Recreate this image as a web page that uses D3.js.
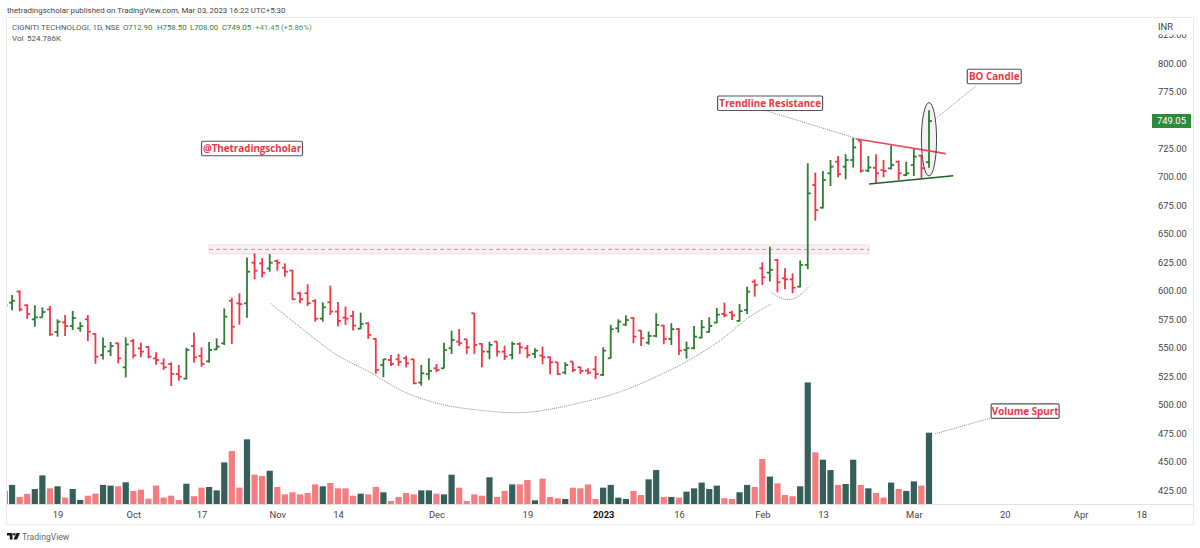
<!DOCTYPE html>
<html>
<head>
<meta charset="utf-8">
<script src="https://cdn.jsdelivr.net/npm/d3@7"></script>
<style>
  html, body { margin: 0; padding: 0; background: #fff; }
  svg { display: block; }
  text { font-family: Roboto, sans-serif; }
</style>
</head>
<body>
<svg id="chart" width="1200" height="548"></svg>
<script>
// daily bars, Sep 2022 - Mar 2023
const opens = [585.4,589.5,599.2,587.2,574.9,576.6,583.6,563.7,572.2,569,567,574.9,562,543.5,546.8,553.8,532.7,555.8,549.4,550.6,540.6,536.2,535.6,526.9,522.8,551.4,542.7,538,548.5,553.8,591.2,588.9,588.9,624.6,624,619.6,626.1,620.2,617.7,597.8,597.8,591,575.5,589.9,581.7,576.4,577.9,566.7,571.4,557.7,534.8,539.2,539.8,540.7,539.8,519.3,526.9,531.9,531.9,549.5,555.3,557.4,580.2,553.3,546.5,555.3,546.5,543.6,553.3,549.5,544.5,543,541.6,537.2,528.1,537.8,532.8,529.9,531,526.1,540.7,567,570.3,576.1,565,554.4,560.3,569.4,557.7,566.4,548,549.5,558.8,563.8,572,579.6,580.8,573.5,583.1,608,619.7,615.9,627,610.9,610,603.6,622.6,692.8,672.9,703.1,713.3,708.9,714.8,731.8,705.4,708,706,707.5,713.3,701.6,710.4,718.6,712.9];
const highs = [588.9,596.2,600.3,588,587.2,585.4,586.6,574.9,578.7,582.2,572.5,578.7,562.6,559,555,554.4,559,557.6,554.4,551.4,545.9,540.6,537.1,534.8,550,563.4,550.3,555,558.2,584.5,593.9,597.7,629,632.8,628.7,632.2,627.5,624,618.3,599.2,605.7,592.5,589.9,604.5,590.2,586,582.5,580.8,572.3,558.3,540.1,543.6,544.5,543,540.1,534.8,540.7,535.7,554.4,565,566.4,557.7,580.2,553.9,555.3,555.3,551.8,555.3,554.7,552.4,549.5,550.9,542.2,537.2,537.2,537.8,533.4,531.9,542.7,550.3,570,574.9,578.4,576.7,565.6,564.1,580.2,570,571.4,567,555.3,569.1,574.4,576.7,584.9,589.6,582.5,588.4,603.6,610,625,638.7,627.9,619.7,615.3,626.5,711.9,703.7,705.1,714.8,718.3,719.8,734.4,732.4,718.3,719.8,714.8,727.7,714.2,713.3,724.5,719.2,758.5];
const lows = [584.5,582.8,581.9,575.4,568.4,576.6,560.5,559.6,560.2,565.5,564,555.8,535.9,539.7,542.7,536.2,523.9,540.6,541.5,540.6,535,530.4,516.3,521,522.2,536.8,533.3,536.8,548,552.3,553.2,570.2,576.3,610,611.7,616.7,617.6,612.3,591.9,589,586.6,572.9,572.9,578.7,568.5,570,565,566.2,557.7,527,524,534,534,532.8,517.9,516.7,521.7,528.4,531.6,544.5,551.5,544.5,544.5,532.8,539.8,542.2,539.2,539.8,544.5,540.7,540.7,535.4,526.6,526,526.6,528.4,526.9,526.6,522.5,525.2,540.4,563.2,569.1,553.9,551.5,552.7,559.1,553,552.4,543.6,540.4,548.6,558.3,563.2,571.4,576.7,574.4,572.9,579.6,594.8,605.1,608,598.6,601.3,597.8,603,618.8,661.5,672.3,692,699.6,697.8,708.1,703.7,704.3,693.7,699.6,706.6,697.2,700.7,700.7,698.7,708];
const closes = [587.1,591.2,583.6,579.5,576.6,581.3,561.7,572.8,569,576,569,564,542.1,550.9,551.4,540.6,552.9,543.2,546.5,542.1,539.1,532.7,526.9,524.5,548,541.5,535.6,548,550.9,577.2,568.4,588.3,616.7,617.6,615.8,624.6,624.6,616.7,592.5,592.5,589,575.5,585.5,581.7,573.5,575.5,569.4,570.8,561.2,530.4,539.8,535.7,537.5,536.3,518.7,527.5,529.6,530.4,548,556.8,553.9,550.3,552.4,546.5,552.4,546.5,542.2,553.3,550.3,543.6,547.4,541.6,537.2,526.9,534.8,530.4,529.6,528.1,526.9,547.4,566.2,572.9,574.3,559.7,558.3,560.3,570,557.7,566.2,547.4,549.5,559.7,567.9,569.1,579,578.4,578.4,582,599.2,605.1,611.8,618.3,607.4,610,602.7,622.6,685.5,670.9,697.2,708.9,702.5,714.8,725.9,705.4,708.3,703.1,705.1,710.4,703.1,703.1,717.7,707.6,749.05];
const volumes = [98,142,54,76,112,212,117,132,49,112,32,63,78,142,137,132,161,98,107,41,137,49,63,32,151,59,122,127,102,307,390,122,476,217,207,246,127,73,88,73,83,146,132,156,117,117,63,78,73,127,88,24,54,83,73,102,102,78,73,217,122,24,73,63,198,54,98,146,146,178,29,188,54,44,39,122,117,146,39,122,142,49,39,98,68,183,251,54,54,49,93,117,159,112,137,44,39,88,142,127,332,203,154,68,59,132,893,381,327,251,142,149,327,142,117,83,49,159,112,98,168,137,524.786];

const priceTicks = [425,450,475,500,525,550,575,600,625,650,675,700,725,775,800,825];
const timeBars = [7,17,26,36,44,57,69,79,89,100,108,120,132,142,150];
const timeLabels = ['19','Oct','17','Nov','14','Dec','19','2023','16','Feb','13','Mar','20','Apr','18'];

// drawings, all as [bar index, price]
const cupCurve = [[35.07,589],[39.47,565.6],[43.88,543.6],[48.28,528.1],[52.68,511.4],[57.09,501.2],[61.49,496],[68.5,493],[74.7,499.7],[81.3,511.4],[87.9,530.5],[89.6,536.3],[94.1,554.8],[98.5,577.9],[101.1,588.1]];
const handleCurve = [[101.1,599],[102.8,592.8],[104.4,593.7],[106.1,603.3]];
const resistanceLeader = [[100.2,758.7],[112.1,734.4]];
const resistanceLine = [[112.3,733.5],[124.2,720.4]];
const supportLine = [[114.1,693.8],[125.2,701]];
const breakoutLeader = [[123.1,752.3],[128.2,779.8]];
const volumeLeader = [[122.8,474.3],[130.2,488.3]];
const resistanceZone = { from: 27, to: 114.1, top: 640.2, mid: 636.3, bottom: 632.3 };
const breakoutOval = { bar: 122, price: 733, priceRadius: 32.2, barRadius: 1 };

const callouts = [
  { text: 'Trendline Resistance', bar: 94.1, price: 771, w: 105 },
  { text: '@Thetradingscholar', bar: 26, price: 731.3, w: 101 },
  { text: 'BO Candle', bar: 127.05, price: 794.5, w: 54 },
  { text: 'Volume Spurt', bar: 130.2, price: 500.6, w: 68 }
];

const GREEN = '#2e7d32';
const RED = '#f23645';
const VOL_GREEN = '#355f58';
const VOL_RED = '#f77c80';
const FRAME = '#ebebec';
const TEXT = '#444';
const LABEL_FONT = '"Open Sans", sans-serif';

const svg = d3.select('#chart');

const xScale = d3.scaleLinear().domain([0, 122]).range([4.5, 929]);
const yScale = d3.scaleLinear().domain([425, 800]).range([490, 63]);
const volScale = d3.scaleLinear().domain([0, 524.786]).range([504.3, 432.7]);
const pt = d => [xScale(d[0]), yScale(d[1])];

const defs = svg.append('defs');
defs.append('clipPath').attr('id', 'pane')
  .append('rect').attr('x', 7).attr('y', 18).attr('width', 1186).attr('height', 486);
defs.append('clipPath').attr('id', 'axisClip')
  .append('rect').attr('x', 1146).attr('y', 34.5).attr('width', 47).attr('height', 470);

// frame
svg.append('rect')
  .attr('x', 6.5).attr('y', 17.5).attr('width', 1187).attr('height', 507)
  .attr('fill', '#fff').attr('stroke', FRAME);
svg.append('line')
  .attr('x1', 7).attr('x2', 1193).attr('y1', 504.5).attr('y2', 504.5)
  .attr('stroke', '#e2e2e4');

const pane = svg.append('g').attr('clip-path', 'url(#pane)');

// resistance zone
pane.append('rect')
  .attr('x', xScale(resistanceZone.from)).attr('width', xScale(resistanceZone.to) - xScale(resistanceZone.from))
  .attr('y', yScale(resistanceZone.top)).attr('height', yScale(resistanceZone.bottom) - yScale(resistanceZone.top))
  .attr('fill', '#fdeef0').attr('stroke', '#f9d3d8').attr('stroke-width', 0.8);
pane.append('line')
  .attr('x1', xScale(resistanceZone.from)).attr('x2', xScale(resistanceZone.to))
  .attr('y1', yScale(resistanceZone.mid)).attr('y2', yScale(resistanceZone.mid))
  .attr('stroke', '#9aa6cc').attr('stroke-width', 1).attr('stroke-dasharray', '4 3');

// volume
pane.selectAll('.vol')
  .data(volumes)
  .enter().append('rect')
  .attr('class', 'vol')
  .attr('x', (d, i) => xScale(i) - 3.1)
  .attr('width', 6.2)
  .attr('y', d => volScale(d))
  .attr('height', d => volScale(0) - volScale(d))
  .attr('fill', (d, i) => closes[i] >= opens[i] ? VOL_GREEN : VOL_RED);

// ohlc bars
const bars = pane.selectAll('.bar')
  .data(opens)
  .enter().append('g')
  .attr('class', 'bar')
  .attr('stroke', (d, i) => closes[i] >= opens[i] ? GREEN : RED)
  .attr('stroke-width', 1.8);
bars.append('line')
  .attr('x1', (d, i) => xScale(i)).attr('x2', (d, i) => xScale(i))
  .attr('y1', (d, i) => yScale(highs[i])).attr('y2', (d, i) => yScale(lows[i]));
bars.append('line')
  .attr('x1', (d, i) => xScale(i) - 3).attr('x2', (d, i) => xScale(i))
  .attr('y1', (d, i) => yScale(opens[i])).attr('y2', (d, i) => yScale(opens[i]));
bars.append('line')
  .attr('x1', (d, i) => xScale(i)).attr('x2', (d, i) => xScale(i) + 3)
  .attr('y1', (d, i) => yScale(closes[i])).attr('y2', (d, i) => yScale(closes[i]));

// curves and leaders
const smooth = d3.line().x(d => xScale(d[0])).y(d => yScale(d[1])).curve(d3.curveCatmullRom);
[cupCurve, handleCurve].forEach(points => {
  pane.append('path')
    .attr('d', smooth(points))
    .attr('fill', 'none')
    .attr('stroke', '#888').attr('stroke-width', 1).attr('stroke-dasharray', '1 1');
});
[resistanceLeader, breakoutLeader, volumeLeader].forEach(points => {
  pane.append('line')
    .attr('x1', pt(points[0])[0]).attr('y1', pt(points[0])[1])
    .attr('x2', pt(points[1])[0]).attr('y2', pt(points[1])[1])
    .attr('stroke', '#888').attr('stroke-width', 1).attr('stroke-dasharray', '1 1');
});
pane.append('line')
  .attr('x1', pt(resistanceLine[0])[0]).attr('y1', pt(resistanceLine[0])[1])
  .attr('x2', pt(resistanceLine[1])[0]).attr('y2', pt(resistanceLine[1])[1])
  .attr('stroke', '#f0485a').attr('stroke-width', 1.6);
pane.append('line')
  .attr('x1', pt(supportLine[0])[0]).attr('y1', pt(supportLine[0])[1])
  .attr('x2', pt(supportLine[1])[0]).attr('y2', pt(supportLine[1])[1])
  .attr('stroke', '#1e5f2a').attr('stroke-width', 1.6);

// oval round the breakout bar
pane.append('ellipse')
  .attr('cx', xScale(breakoutOval.bar))
  .attr('cy', yScale(breakoutOval.price))
  .attr('rx', xScale(breakoutOval.barRadius) - xScale(0))
  .attr('ry', yScale(breakoutOval.price - breakoutOval.priceRadius) - yScale(breakoutOval.price))
  .attr('fill', 'rgba(90,90,90,0.08)')
  .attr('stroke', '#444').attr('stroke-width', 1);

// callouts
const callout = pane.selectAll('.callout')
  .data(callouts)
  .enter().append('g')
  .attr('class', 'callout')
  .attr('transform', d => `translate(${xScale(d.bar)}, ${yScale(d.price)})`);
callout.append('rect')
  .attr('width', d => d.w).attr('height', 14.5)
  .attr('rx', 1.5)
  .attr('fill', '#fff').attr('stroke', '#555').attr('stroke-width', 1.2);
callout.append('text')
  .attr('x', d => d.w / 2).attr('y', 10.8)
  .attr('text-anchor', 'middle')
  .attr('font-size', 9.8).attr('font-weight', 700)
  .attr('fill', RED)
  .style('font-family', LABEL_FONT)
  .text(d => d.text);

// axes
const yAxis = svg.append('g')
  .attr('clip-path', 'url(#axisClip)')
  .append('g')
  .attr('transform', 'translate(1152, 0)')
  .call(d3.axisRight(yScale).tickValues(priceTicks).tickSize(0).tickPadding(6).tickFormat(d3.format('.2f')));
yAxis.select('.domain').remove();
yAxis.selectAll('text').attr('font-size', 9.4).attr('fill', TEXT).style('font-family', 'Roboto, sans-serif');

const xAxis = svg.append('g')
  .attr('transform', 'translate(0, 504)')
  .call(d3.axisBottom(xScale).tickValues(timeBars).tickSize(0).tickPadding(7)
    .tickFormat((d, i) => timeLabels[i]));
xAxis.select('.domain').remove();
xAxis.selectAll('text')
  .attr('font-size', 9.4)
  .attr('fill', d => d === 79 ? '#111' : TEXT)
  .attr('font-weight', d => d === 79 ? 700 : 400)
  .style('font-family', 'Roboto, sans-serif');

svg.append('text').attr('x', 1158).attr('y', 30).attr('font-size', 9.4).attr('fill', TEXT).text('INR');

// last price tag
const lastClose = closes[closes.length - 1];
svg.append('rect')
  .attr('x', 1152).attr('width', 39)
  .attr('y', yScale(lastClose) - 7).attr('height', 14)
  .attr('fill', '#2f8a3c');
svg.append('text')
  .attr('x', 1171.5).attr('y', yScale(lastClose) + 3.4)
  .attr('text-anchor', 'middle')
  .attr('font-size', 9.4).attr('fill', '#fff')
  .text(d3.format('.2f')(lastClose));

// header
svg.append('text').attr('x', 7).attr('y', 13).attr('font-size', 7.9).attr('fill', '#444')
  .text('thetradingscholar published on TradingView.com, Mar 03, 2023 16:22 UTC+5:30');
const header = [
  { x: 12, t: 'CIGNITI TECHNOLOGI, 1D, NSE', c: '#555', s: 7.9 },
  { x: 123, t: 'O712.90', c: GREEN, s: 7.8 },
  { x: 157, t: 'H758.50', c: GREEN, s: 7.8 },
  { x: 190, t: 'L708.00', c: GREEN, s: 7.8 },
  { x: 222, t: 'C749.05', c: GREEN, s: 7.8 },
  { x: 255, t: '+41.45 (+5.86%)', c: '#4c9a54', s: 7.8 }
];
svg.selectAll('.hdr')
  .data(header)
  .enter().append('text')
  .attr('class', 'hdr')
  .attr('x', d => d.x).attr('y', 30)
  .attr('font-size', d => d.s)
  .attr('fill', d => d.c)
  .text(d => d.t);
svg.append('text').attr('x', 12).attr('y', 41).attr('font-size', 8).attr('fill', '#555').text('Vol');
svg.append('text').attr('x', 27).attr('y', 41).attr('font-size', 8).attr('fill', '#555').text('524.786K');

// footer logo
const logo = svg.append('g').attr('transform', 'translate(7, 533)').attr('fill', '#131722');
logo.append('path').attr('d', 'M0 0H5.5V6.5H2.8V2.4H0Z');
logo.append('circle').attr('cx', 7.3).attr('cy', 1.3).attr('r', 1.3);
logo.append('path').attr('d', 'M9.5 0H13L10 6.5H6.5Z');
svg.append('text').attr('x', 22).attr('y', 539.7).attr('font-size', 8.6).attr('fill', '#666').text('TradingView');
</script>
</body>
</html>
